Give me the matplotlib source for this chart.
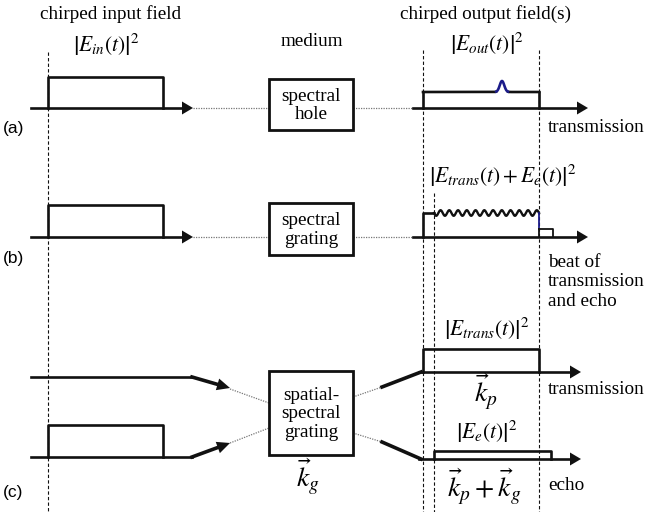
import numpy as np
import matplotlib

matplotlib.use("Agg")
import matplotlib.pyplot as plt
from matplotlib.patches import Polygon, Rectangle

plt.rcParams["font.family"] = "Liberation Serif"
plt.rcParams["mathtext.fontset"] = "stix"

W, H = 647, 512

# time marks (pixel columns) for the pulse edges
T_IN = [48, 163]            # input pulse start / end
T_OUT = [423, 539]          # transmitted pulse start / end
T_ECHO = [434, 551]         # echo start / end
T_TAIL = [539, 553]         # echo tail sticking out in (b)

# baselines of each time axis
Y_IN = [108, 237, 377, 457]
Y_OUT = [108, 237, 372, 459]

# pulse top levels
TOP_IN = [77, 205, 425]
TOP_OUT_A = 92
TOP_OUT_B = 213
TOP_TAIL_B = 229
TOP_TRANS_C = 349
TOP_ECHO_C = 451

# spectral hole bump in (a)
HOLE_CENTER = 502
HOLE_WIDTH = 3.2
HOLE_HEIGHT = 11
BEAT_PERIODS = 12
BEAT_AMP = 2.8

# medium boxes: (left, top, right, bottom)
BOXES = [(269, 79, 353, 130), (269, 203, 353, 255), (269, 371, 353, 455)]
BOX_TEXT = ["spectral\nhole", "spectral\ngrating", "spatial-\nspectral\ngrating"]

LW = 1.9
K = "#111111"
BLUE = "#1c1c8a"

fig = plt.figure(figsize=(W / 100, H / 100), dpi=100)
ax = fig.add_axes([0, 0, 1, 1])
ax.set_xlim(0, W)
ax.set_ylim(H, 0)
ax.axis("off")


def head(x0, y0, x1, y1, length=12, width=12):
    d = np.array([x1 - x0, y1 - y0], float)
    d /= np.hypot(*d)
    n = np.array([-d[1], d[0]])
    tip = np.array([x1, y1])
    base = tip - d * length
    pts = [tip, base + n * width / 2, base - n * width / 2]
    ax.add_patch(Polygon(pts, closed=True, color=K, lw=0))


def dotted(xs, ys):
    ax.plot(xs, ys, color="#777777", lw=0.9, ls=(0, (1, 1)))


def vdash(x, y0):
    ax.plot([x, x], [y0, H], color=K, lw=0.8, ls=(0, (3, 2)))


# vertical time markers
vdash(T_IN[0], 52)
vdash(T_OUT[0], 50)
vdash(T_OUT[1], 50)
vdash(T_ECHO[0], 193)

# rows (a) and (b): input pulse, medium, output axis
for r in range(2):
    y = Y_IN[r]
    ax.plot([31, 183], [y, y], color=K, lw=LW)
    head(31, y, 193, y, 11, 13)
    ax.plot([T_IN[0], T_IN[0], T_IN[1], T_IN[1]], [y, TOP_IN[r], TOP_IN[r], y],
            color=K, lw=LW)
    bx = BOXES[r]
    dotted([193, bx[0]], [y, y])
    dotted([bx[2], 413], [y, y])
    ax.plot([413, 578], [Y_OUT[r], Y_OUT[r]], color=K, lw=LW)
    head(413, Y_OUT[r], 588, Y_OUT[r], 11, 13)

# output (a): flat pulse with a hole bump
xa = np.linspace(T_OUT[0], T_OUT[1], 400)
ya = TOP_OUT_A - HOLE_HEIGHT * np.exp(-((xa - HOLE_CENTER) / HOLE_WIDTH) ** 2)
ax.plot([T_OUT[0], T_OUT[0]], [Y_OUT[0], TOP_OUT_A], color=K, lw=LW)
ax.plot([T_OUT[1], T_OUT[1]], [Y_OUT[0], TOP_OUT_A], color=K, lw=LW)
m = np.abs(xa - HOLE_CENTER) < 6
ax.plot(np.where(m, np.nan, xa), ya, color=K, lw=LW)
ax.plot(xa[m], ya[m], color=BLUE, lw=LW)

# output (b): transmission plus beating echo
xb = np.linspace(T_ECHO[0], T_OUT[1], 600)
yb = TOP_OUT_B + BEAT_AMP * np.sin(2 * np.pi * BEAT_PERIODS * (xb - xb[0]) / (xb[-1] - xb[0]))
ax.plot([T_OUT[0], T_OUT[0], T_ECHO[0]], [Y_OUT[1], TOP_OUT_B, TOP_OUT_B], color=K, lw=LW)
ax.plot(xb, yb, color=K, lw=1.7)
ax.plot([T_OUT[1], T_OUT[1]], [TOP_OUT_B, TOP_TAIL_B], color=BLUE, lw=1.3)
ax.plot([T_TAIL[0], T_TAIL[1], T_TAIL[1]], [TOP_TAIL_B, TOP_TAIL_B, Y_OUT[1]],
        color=K, lw=1.3)
ax.plot([T_OUT[1], T_OUT[1]], [TOP_TAIL_B, Y_OUT[1]], color=K, lw=1.3)

# row (c): two input beams into the spatial-spectral grating
for y, tip in ((Y_IN[2], (230, 388)), (Y_IN[3], (230, 443))):
    ax.plot([31, 192], [y, y], color=K, lw=LW)
    d = np.array([tip[0] - 192, tip[1] - y], float)
    d /= np.hypot(*d)
    base = np.array(tip) - d * 12
    ax.plot([192, base[0]], [y, base[1]], color=K, lw=2.6)
    head(192, y, tip[0], tip[1], 13, 12)
ax.plot([T_IN[0], T_IN[0], T_IN[1], T_IN[1]], [Y_IN[3], TOP_IN[2], TOP_IN[2], Y_IN[3]],
        color=K, lw=LW)
dotted([230, 269], [389, 403])
dotted([230, 269], [443, 428])

# two output beams leaving the grating
dotted([353, 382], [397, 387])
dotted([353, 382], [433, 442])
ax.plot([382, 421], [387, Y_OUT[2]], color=K, lw=2.6)
ax.plot([382, 421], [442, Y_OUT[3]], color=K, lw=2.6)
for y in Y_OUT[2:]:
    ax.plot([419, 571], [y, y], color=K, lw=LW)
    head(419, y, 581, y, 11, 13)
ax.plot([T_OUT[0], T_OUT[0], T_OUT[1], T_OUT[1]],
        [Y_OUT[2], TOP_TRANS_C, TOP_TRANS_C, Y_OUT[2]], color=K, lw=LW)
ax.plot([T_ECHO[0], T_ECHO[0], T_ECHO[1], T_ECHO[1]],
        [Y_OUT[3], TOP_ECHO_C, TOP_ECHO_C, Y_OUT[3]], color=K, lw=LW)

# medium boxes
for (l, t, r, b), txt in zip(BOXES, BOX_TEXT):
    ax.add_patch(Rectangle((l, t), r - l, b - t, fill=True, fc="white",
                           ec=K, lw=2.0, zorder=3))
    ax.text((l + r) / 2, (t + b) / 2 + 1, txt, ha="center", va="center",
            fontsize=13.8, linespacing=1.12, zorder=4)

# headings and labels
fs = 13.8
mfs = 15.5
ax.text(111, 14, "chirped input field", ha="center", va="center", fontsize=fs)
ax.text(312, 42, "medium", ha="center", va="center", fontsize=fs)
ax.text(486, 14, "chirped output field(s)", ha="center", va="center", fontsize=fs)
ax.text(106, 45, r"$\left|E_{in}(t)\right|^2$", ha="center", va="center", fontsize=mfs)
ax.text(487, 44, r"$\left|E_{out}(t)\right|^2$", ha="center", va="center", fontsize=mfs)
ax.text(503, 176, r"$\left|E_{trans}(t)+E_e(t)\right|^2$", ha="center", va="center",
        fontsize=mfs)
ax.text(487, 329, r"$\left|E_{trans}(t)\right|^2$", ha="center", va="center", fontsize=mfs)
ax.text(487, 432, r"$\left|E_{e}(t)\right|^2$", ha="center", va="center", fontsize=mfs)
ax.text(486, 391, r"$\vec{k}_p$", ha="center", va="center", fontsize=20)
ax.text(484, 486, r"$\vec{k}_p+\vec{k}_g$", ha="center", va="center", fontsize=20)
ax.text(308, 476, r"$\vec{k}_g$", ha="center", va="center", fontsize=20)

ax.text(548, 128, "transmission", ha="left", va="center", fontsize=fs)
ax.text(548, 282, "beat of\ntransmission\nand echo", ha="left", va="center",
        fontsize=fs, linespacing=1.2)
ax.text(548, 389, "transmission", ha="left", va="center", fontsize=fs)
ax.text(548, 485, "echo", ha="left", va="center", fontsize=fs)

for lab, y in (("(a)", 128), ("(b)", 258), ("(c)", 493)):
    ax.text(3, y, lab, ha="left", va="center", fontsize=12.5, family="Liberation Sans")

fig.savefig("out.png", dpi=100)
